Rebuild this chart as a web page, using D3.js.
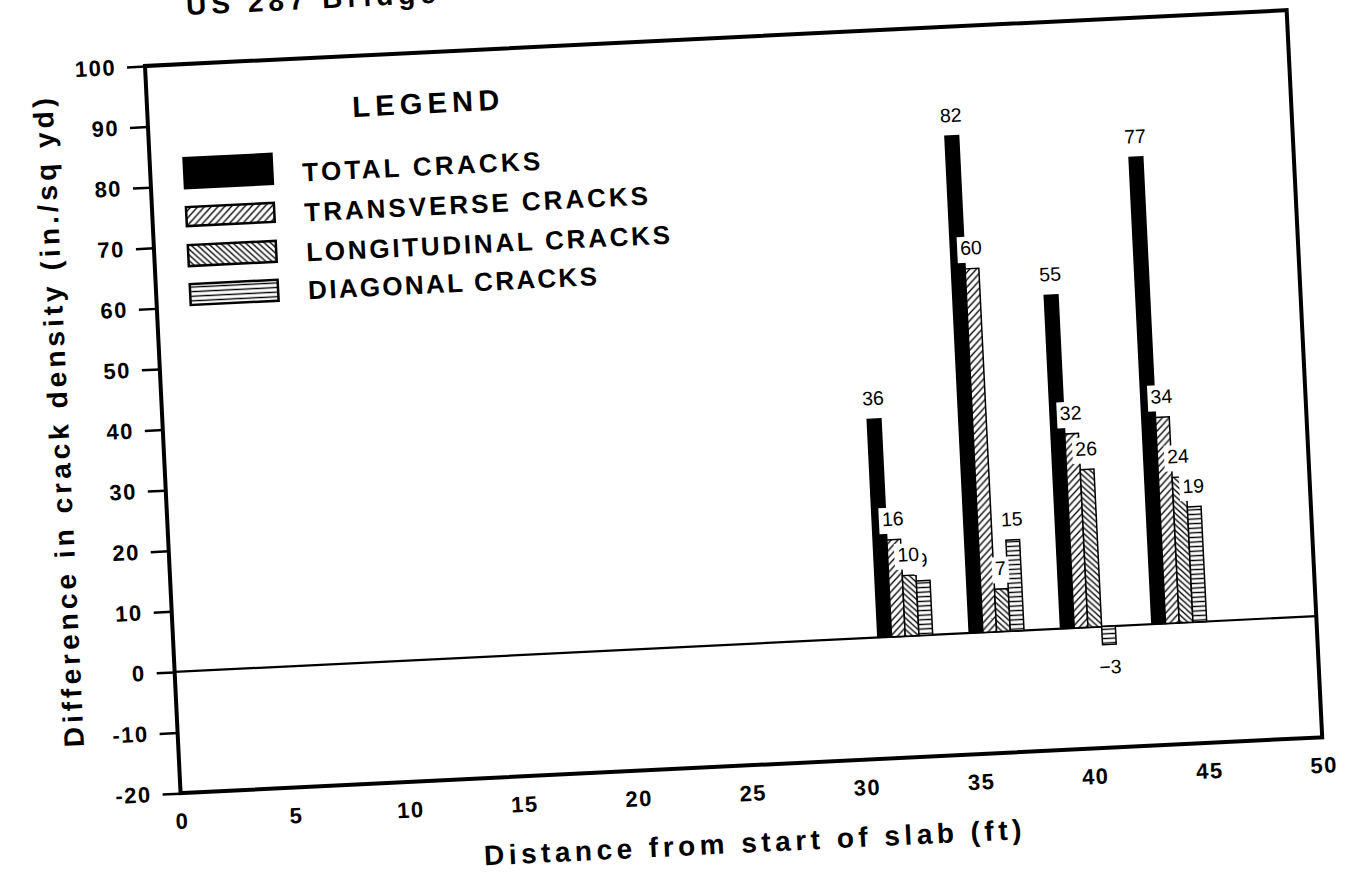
<!DOCTYPE html>
<html>
<head>
<meta charset="utf-8">
<script src="https://cdn.jsdelivr.net/npm/d3@7"></script>
<style>
  html, body { margin: 0; padding: 0; background: #fff; overflow: hidden; }
  svg { display: block; }
</style>
</head>
<body>
<svg id="chart" width="1354" height="873"></svg>
<script>
// Crack survey groups along the slab (ft)
const categories = [32, 36, 40, 44];
const seriesNames = ["TOTAL CRACKS", "TRANSVERSE CRACKS", "LONGITUDINAL CRACKS", "DIAGONAL CRACKS"];
// Difference in crack density (in./sq yd)
const totalCracks = [36, 82, 55, 77];
const transverseCracks = [16, 60, 32, 34];
const longitudinalCracks = [10, 7, 26, 24];
const diagonalCracks = [9, 15, -3, 19];
const xTicks = [0, 5, 10, 15, 20, 25, 30, 35, 40, 45, 50];
const yTicks = [-20, -10, 0, 10, 20, 30, 40, 50, 60, 70, 80, 90, 100];

const seriesValues = [totalCracks, transverseCracks, longitudinalCracks, diagonalCracks];
const seriesFill = ["#000", "url(#hatchFwd)", "url(#hatchBack)", "url(#hatchHoriz)"];

const W = 1143, H = 728;
const BAR_W = 0.6; // bar width in ft
const FONT = "Liberation Sans, Arial, Helvetica, sans-serif";

const svg = d3.select("#chart");
const defs = svg.append("defs");

// hatch fills
const pFwd = defs.append("pattern").attr("id", "hatchFwd")
  .attr("patternUnits", "userSpaceOnUse").attr("width", 7).attr("height", 7);
pFwd.append("rect").attr("width", 7).attr("height", 7).attr("fill", "#fff");
pFwd.append("path").attr("d", "M-1,1 l2,-2 M0,7 l7,-7 M6,8 l2,-2")
  .attr("stroke", "#000").attr("stroke-width", 1.3);

const pBack = defs.append("pattern").attr("id", "hatchBack")
  .attr("patternUnits", "userSpaceOnUse").attr("width", 6).attr("height", 6);
pBack.append("rect").attr("width", 6).attr("height", 6).attr("fill", "#fff");
pBack.append("path").attr("d", "M-1,5 l2,2 M0,0 l6,6 M5,-1 l2,2")
  .attr("stroke", "#000").attr("stroke-width", 1.3);

const pHor = defs.append("pattern").attr("id", "hatchHoriz")
  .attr("patternUnits", "userSpaceOnUse").attr("width", 10).attr("height", 4.6);
pHor.append("rect").attr("width", 10).attr("height", 4.6).attr("fill", "#fff");
pHor.append("path").attr("d", "M0,2.3 H10")
  .attr("stroke", "#000").attr("stroke-width", 1.4);

// whole sheet is set slightly askew
const g = svg.append("g").attr("transform", "translate(145,66) rotate(-2.8)");

const x = d3.scaleLinear().domain([0, 50]).range([0, W]);
const y = d3.scaleLinear().domain([-20, 100]).range([H, 0]);
const inner = d3.scaleBand().domain(seriesNames)
  .range([x(-2 * BAR_W) - x(0), x(2 * BAR_W) - x(0)]);

// page heading (runs off the top edge)
g.append("text")
  .attr("x", 44).attr("y", -49)
  .attr("font-family", FONT)
  .attr("font-weight", "bold").attr("font-size", 28)
  .attr("letter-spacing", 5)
  .text("US 287 Bridge");

// y axis
const yAxis = g.append("g")
  .call(d3.axisLeft(y).tickValues(yTicks).tickSize(18).tickPadding(11).tickFormat(d => String(d)));
yAxis.select(".domain").remove();
yAxis.selectAll(".tick line").attr("stroke", "#000").attr("stroke-width", 2.5);
yAxis.selectAll(".tick text")
  .attr("font-family", FONT)
  .attr("font-weight", "bold").attr("font-size", 22)
  .attr("letter-spacing", 1.5).attr("fill", "#000");

// x axis
const xAxis = g.append("g").attr("transform", `translate(0,${H})`)
  .call(d3.axisBottom(x).tickValues(xTicks).tickSize(0).tickPadding(20).tickFormat(d => String(d)));
xAxis.select(".domain").remove();
xAxis.selectAll(".tick text")
  .attr("font-family", FONT)
  .attr("font-weight", "bold").attr("font-size", 22)
  .attr("letter-spacing", 1.5).attr("fill", "#000");

// zero line
g.append("line")
  .attr("x1", x(0)).attr("x2", x(50))
  .attr("y1", y(0)).attr("y2", y(0))
  .attr("stroke", "#000").attr("stroke-width", 2.2);

// bars
const barData = [];
seriesNames.forEach((name, si) => {
  categories.forEach((c, ci) => {
    barData.push({ name, si, c, v: seriesValues[si][ci] });
  });
});

g.append("g").selectAll("rect")
  .data(barData)
  .join("rect")
  .attr("x", d => x(d.c) + inner(d.name))
  .attr("width", inner.bandwidth())
  .attr("y", d => y(Math.max(0, d.v)))
  .attr("height", d => Math.abs(y(d.v) - y(0)))
  .attr("fill", d => seriesFill[d.si])
  .attr("stroke", "#000").attr("stroke-width", 1.5);

// value labels on white backing, last series first
const CAP = 14;
const labelsG = g.append("g");
const labelOrder = barData.slice().sort((a, b) => (b.si - a.si) || (a.c - b.c));
labelOrder.forEach(d => {
  const cx = x(d.c) + inner(d.name) + inner.bandwidth() / 2;
  const lg = labelsG.append("g");
  const base = d.v >= 0 ? y(d.v) - 14 : y(d.v) + 15 + CAP;
  const t = lg.append("text")
    .attr("x", cx).attr("y", base)
    .attr("text-anchor", "middle")
    .attr("font-family", FONT).attr("font-size", 19.5)
    .attr("fill", "#000")
    .text(d.v < 0 ? "\u2212" + Math.abs(d.v) : String(d.v));
  const bb = t.node().getBBox();
  lg.insert("rect", "text")
    .attr("x", bb.x - 3).attr("width", bb.width + 6)
    .attr("y", base - CAP - 4).attr("height", CAP + 12)
    .attr("fill", "#fff");
});

// frame
g.append("rect")
  .attr("x", 0).attr("y", 0).attr("width", W).attr("height", H)
  .attr("fill", "none").attr("stroke", "#000").attr("stroke-width", 4);

// axis titles
g.append("text")
  .attr("transform", `translate(-104,352) rotate(-90)`)
  .attr("text-anchor", "middle").attr("dy", "0.35em")
  .attr("font-family", FONT)
  .attr("font-weight", "bold").attr("font-size", 28)
  .attr("textLength", 650).attr("lengthAdjust", "spacing")
  .text("Difference in crack density (in./sq yd)");

g.append("text")
  .attr("x", 569).attr("y", 815)
  .attr("text-anchor", "middle")
  .attr("font-family", FONT)
  .attr("font-weight", "bold").attr("font-size", 28)
  .attr("textLength", 538).attr("lengthAdjust", "spacing")
  .text("Distance from start of slab (ft)");

// legend
const legend = g.append("g");
legend.append("text")
  .attr("x", 205).attr("y", 61)
  .attr("font-family", FONT)
  .attr("font-weight", "bold").attr("font-size", 29)
  .attr("textLength", 147).attr("lengthAdjust", "spacing")
  .text("LEGEND");

const legendRows = [
  { sy: 94, sh: 30, ty: 123, tw: 238 },
  { sy: 143, sh: 19, ty: 163, tw: 344 },
  { sy: 181, sh: 21, ty: 203, tw: 364 },
  { sy: 220, sh: 21, ty: 241, tw: 289 }
];
seriesNames.forEach((name, i) => {
  const r = legendRows[i];
  legend.append("rect")
    .attr("x", 34).attr("y", r.sy).attr("width", 88).attr("height", r.sh)
    .attr("fill", seriesFill[i]).attr("stroke", "#000").attr("stroke-width", 2.5);
  legend.append("text")
    .attr("x", 152).attr("y", r.ty)
    .attr("font-family", FONT)
    .attr("font-weight", "bold").attr("font-size", 26)
    .attr("textLength", r.tw).attr("lengthAdjust", "spacing")
    .text(name);
});
</script>
</body>
</html>
